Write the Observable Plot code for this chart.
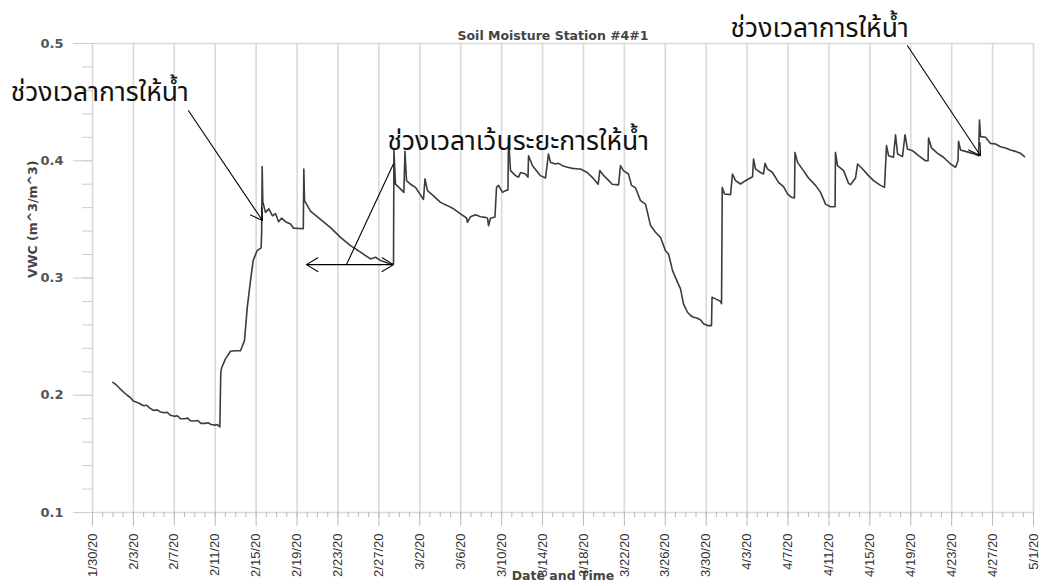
<!DOCTYPE html>
<html>
<head>
<meta charset="utf-8">
<script src="https://cdn.jsdelivr.net/npm/d3@7"></script>
<script src="https://cdn.jsdelivr.net/npm/@observablehq/plot@0.6"></script>
<style>
  html, body { margin: 0; padding: 0; background: #fff; }
  #chart svg { display: block; }
</style>
</head>
<body>
<div id="chart"></div>
<script>
// Elapsed days since 1/30/20 00:00 and soil moisture values
const dayOffset = [
  2.0, 2.3, 2.7, 3.0, 3.4, 3.7, 4.0, 4.3, 4.6, 5.0, 5.3, 5.6, 6.0, 6.3, 6.6, 7.0, 7.3, 7.6, 8.0, 8.3,
  8.6, 9.0, 9.3, 9.6, 10.0, 10.3, 10.6, 11.0, 11.3, 11.6, 12.0, 12.2, 12.45,
  12.54, 12.61, 13.0, 13.49, 13.98, 14.47, 14.86, 15.13, 15.45, 15.71, 16.1, 16.49, 16.54, 16.59, 16.65,
  16.91, 17.24, 17.6, 17.89, 18.19, 18.48, 18.87, 19.36, 19.65, 20.61, 20.66, 20.73,
  21.31, 22.29, 23.27, 24.25, 25.22, 26.2, 27.18, 27.67, 28.16, 29.13, 29.43, 29.47, 29.62,
  30.11, 30.44, 30.55, 30.7, 31.09, 31.58, 32.36, 32.51, 32.75, 33.34, 34.02, 34.71, 35.3, 35.98,
  36.57, 36.66, 36.96, 37.45, 37.94, 38.42, 38.62, 38.72, 38.91, 39.35, 39.5, 39.7, 40.09, 40.38,
  40.62, 40.67, 40.87, 41.36, 41.65, 41.85, 42.33, 42.58, 42.63, 43.02, 43.8, 44.29, 44.58, 44.78,
  45.27, 45.56, 45.95, 46.44, 46.93, 47.52, 47.71, 48.37, 49.01, 49.44, 49.6, 49.99, 50.48, 50.81,
  51.43, 51.62, 51.91, 52.4, 52.7, 53.09, 53.58, 54.07, 54.56, 55.04, 55.53, 56.02, 56.32, 56.71,
  57.2, 57.49, 57.78, 58.17, 58.47, 58.76, 59.15, 59.44, 59.74, 60.13, 60.52, 60.57, 60.91, 61.4,
  61.5, 61.57, 61.79, 62.38, 62.57, 62.87, 63.36, 63.84, 64.53, 64.63, 64.82, 65.31, 65.6, 65.75,
  65.99, 66.48, 67.07, 67.56, 67.95, 68.34, 68.63, 68.68, 68.93, 69.51, 70.0, 70.69, 71.18, 71.67,
  72.15, 72.6, 72.64, 72.84, 73.43, 73.92, 74.11, 74.6, 74.8, 75.29, 75.87, 76.36, 77.04, 77.43,
  77.63, 77.83, 78.31, 78.51, 78.71, 79.19, 79.44, 79.68, 80.17, 80.76, 81.44, 81.69, 81.74, 82.03,
  82.62, 83.2, 83.89, 84.38, 84.62, 84.67, 84.87, 85.35, 86.04, 86.63, 86.72, 86.82, 87.31, 87.8,
  88.29, 88.77, 89.26, 89.75, 90.24, 90.73, 91.12
];
const vwc = [
  0.211, 0.209, 0.2055, 0.203, 0.200, 0.198, 0.195, 0.194, 0.193, 0.191, 0.1915, 0.189, 0.187, 0.1875, 0.186, 0.185, 0.1855, 0.183, 0.182, 0.1825,
  0.180, 0.180, 0.1805, 0.178, 0.178, 0.1785, 0.176, 0.176, 0.1765, 0.175, 0.1745, 0.175, 0.173,
  0.219, 0.223, 0.231, 0.2375, 0.238, 0.238, 0.2466, 0.275, 0.298, 0.315, 0.3234, 0.3257, 0.340, 0.395, 0.365,
  0.356, 0.359, 0.353, 0.355, 0.348, 0.351, 0.348, 0.346, 0.3425, 0.342, 0.393, 0.366,
  0.357, 0.350, 0.343, 0.3347, 0.3276, 0.322, 0.3163, 0.3177, 0.315, 0.312, 0.312, 0.409, 0.380,
  0.376, 0.373, 0.408, 0.383, 0.380, 0.3773, 0.367, 0.3845, 0.3745, 0.370, 0.3645, 0.3617, 0.359, 0.3547,
  0.3512, 0.3475, 0.3523, 0.354, 0.3523, 0.3517, 0.351, 0.3447, 0.351, 0.352, 0.3773, 0.379, 0.373, 0.3745,
  0.375, 0.420, 0.3916, 0.3873, 0.386, 0.390, 0.3887, 0.386, 0.4043, 0.3958, 0.3873, 0.3853, 0.4058, 0.3986,
  0.3972, 0.3978, 0.3958, 0.3944, 0.3935, 0.393, 0.393, 0.390, 0.3845, 0.380, 0.3916, 0.3873, 0.383, 0.380,
  0.3794, 0.3958, 0.3916, 0.3887, 0.379, 0.3768, 0.366, 0.363, 0.3447, 0.339, 0.3347, 0.3233, 0.3205, 0.3063,
  0.2963, 0.2907, 0.278, 0.2708, 0.268, 0.2665, 0.2657, 0.2643, 0.2609, 0.2594, 0.2594, 0.2835, 0.2822, 0.2801,
  0.278, 0.3773, 0.3717, 0.3711, 0.3887, 0.383, 0.3802, 0.383, 0.3864, 0.4015, 0.393, 0.390, 0.3887, 0.3978,
  0.393, 0.390, 0.3816, 0.378, 0.3717, 0.3688, 0.3683, 0.4071, 0.3986, 0.3916, 0.3853, 0.379, 0.373, 0.363,
  0.3608, 0.3608, 0.4071, 0.3958, 0.3916, 0.3807, 0.3796, 0.3853, 0.3972, 0.393, 0.3873, 0.383, 0.379, 0.3773,
  0.4129, 0.4043, 0.403, 0.4222, 0.4058, 0.4035, 0.4222, 0.410, 0.4086, 0.4043, 0.400, 0.400, 0.4194, 0.4109,
  0.4063, 0.403, 0.3972, 0.3944, 0.400, 0.4166, 0.4092, 0.408, 0.4063, 0.4043, 0.4348, 0.4206, 0.420, 0.4148,
  0.4143, 0.412, 0.4109, 0.4092, 0.408, 0.4063, 0.4035
];

// Axis tick labels
const xTickLabels = ["1/30/20","2/3/20","2/7/20","2/11/20","2/15/20","2/19/20","2/23/20","2/27/20",
  "3/2/20","3/6/20","3/10/20","3/14/20","3/18/20","3/22/20","3/26/20","3/30/20","4/3/20","4/7/20",
  "4/11/20","4/15/20","4/19/20","4/23/20","4/27/20","5/1/20"];
const yTicks = [0.1, 0.2, 0.3, 0.4, 0.5];

const titleText = "Soil Moisture Station #4#1";
const xLabel = "Date and Time";
const yLabel = "VWC (m^3/m^3)";

// Annotations (Thai), positioned in data coordinates (days since 1/30/20, VWC)
const noteText = ["ช่วงเวลาการให้น้ำ", "ช่วงเวลาเว้นระยะการให้น้ำ", "ช่วงเวลาการให้น้ำ"];
const noteDay = [-8.0, 28.84, 62.38];
const noteVwc = [0.458, 0.416, 0.513];
// arrows: start day, start vwc, end day, end vwc, head (1 = arrowhead)
const arrowDay1 = [9.39, 29.43, 24.83, 24.83, 79.68];
const arrowVwc1 = [0.4427, 0.3975, 0.3114, 0.3114, 0.4981];
const arrowDay2 = [16.62, 24.83, 20.92, 29.43, 86.82];
const arrowVwc2 = [0.349, 0.3114, 0.3114, 0.3114, 0.4043];
const arrowHead = [1, 0, 1, 1, 1];

const t0 = Date.UTC(2020, 0, 30);
const toDate = (d) => new Date(t0 + d * 86400000);
const parseTick = d3.utcParse("%m/%d/%y");

const series = dayOffset.map((d, i) => ({date: toDate(d), v: vwc[i]}));
const tickDates = xTickLabels.map(s => parseTick(s));
const dailyTicks = d3.utcDay.range(tickDates[0], new Date(tickDates[tickDates.length - 1].getTime() + 1));
const minorY = d3.range(0.1, 0.5001, 0.02).map(v => +v.toFixed(2));
const notes = noteText.map((t, i) => ({t, date: toDate(noteDay[i]), v: noteVwc[i]}));
const arrows = arrowDay1.map((d, i) => ({
  x1: toDate(d), y1: arrowVwc1[i], x2: toDate(arrowDay2[i]), y2: arrowVwc2[i], head: arrowHead[i]
}));

const fmt = d3.utcFormat("%-m/%-d/%y");
const thaiFont = "'Noto Sans Thai', 'Noto Sans Thai Looped', 'Loma', 'Garuda', 'Waree', 'Tlwg Typo', 'Noto Sans', 'DejaVu Sans', sans-serif";
const uiFont = "'DejaVu Sans', Verdana, sans-serif";

const chart = Plot.plot({
  width: 1043,
  height: 586,
  marginLeft: 92,
  marginRight: 10,
  marginTop: 43,
  marginBottom: 74,
  style: {background: "#fff", fontFamily: "'Liberation Sans', Arial, sans-serif"},
  x: {type: "utc", domain: [tickDates[0], tickDates[tickDates.length - 1]]},
  y: {domain: [0.1, 0.5]},
  marks: [
    Plot.gridX(tickDates, {stroke: "#d9d9d9", strokeOpacity: 1, strokeWidth: 1.6}),
    Plot.ruleY(yTicks.filter(v => v === 0.1 || v === 0.5), {stroke: "#d9d9d9", strokeWidth: 1.6}),
    // minor daily ticks on x
    Plot.axisX({ticks: dailyTicks, tickSize: 5, tickFormat: () => "", stroke: "#bbb", label: null}),
    // major x ticks with rotated labels
    Plot.axisX({ticks: tickDates, tickSize: 14, tickPadding: 7, tickRotate: -90, tickFormat: fmt,
      stroke: "#bbb", fill: "#333", fontSize: 13, label: null}),
    // minor y ticks
    Plot.axisY({ticks: minorY, tickSize: 10, tickFormat: () => "", stroke: "#ccc", label: null}),
    Plot.axisY({ticks: yTicks, tickSize: 19, tickPadding: 10, tickFormat: d3.format(".1f"),
      stroke: "#ccc", fill: "#555", fontSize: 13, fontWeight: "bold", fontFamily: uiFont, label: null}),
    Plot.line(series, {x: "date", y: "v", stroke: "#3c3c3c", strokeWidth: 1.6}),
    Plot.text([titleText], {frameAnchor: "top", dx: -10, dy: -12, fontSize: 12.5, fontWeight: "bold",
      fill: "#444", fontFamily: uiFont}),
    Plot.text([xLabel], {frameAnchor: "bottom", dy: 67, fontSize: 12.5, fontWeight: "bold",
      fill: "#444", fontFamily: uiFont}),
    Plot.text([yLabel], {frameAnchor: "left", dx: -60, rotate: -90, fontSize: 12.5, fontWeight: "bold",
      fill: "#444", fontFamily: uiFont}),
    Plot.arrow(arrows.filter(a => a.head), {x1: "x1", y1: "y1", x2: "x2", y2: "y2", stroke: "#000",
      strokeWidth: 1.1, headLength: 18, headAngle: 62, bend: 0}),
    Plot.link(arrows.filter(a => !a.head), {x1: "x1", y1: "y1", x2: "x2", y2: "y2", stroke: "#000", strokeWidth: 1.1}),
    Plot.text(notes, {x: "date", y: "v", text: "t", textAnchor: "start", fontSize: 26.5,
      fill: "#111", fontFamily: thaiFont})
  ]
});
document.getElementById("chart").appendChild(chart);
</script>
</body>
</html>
